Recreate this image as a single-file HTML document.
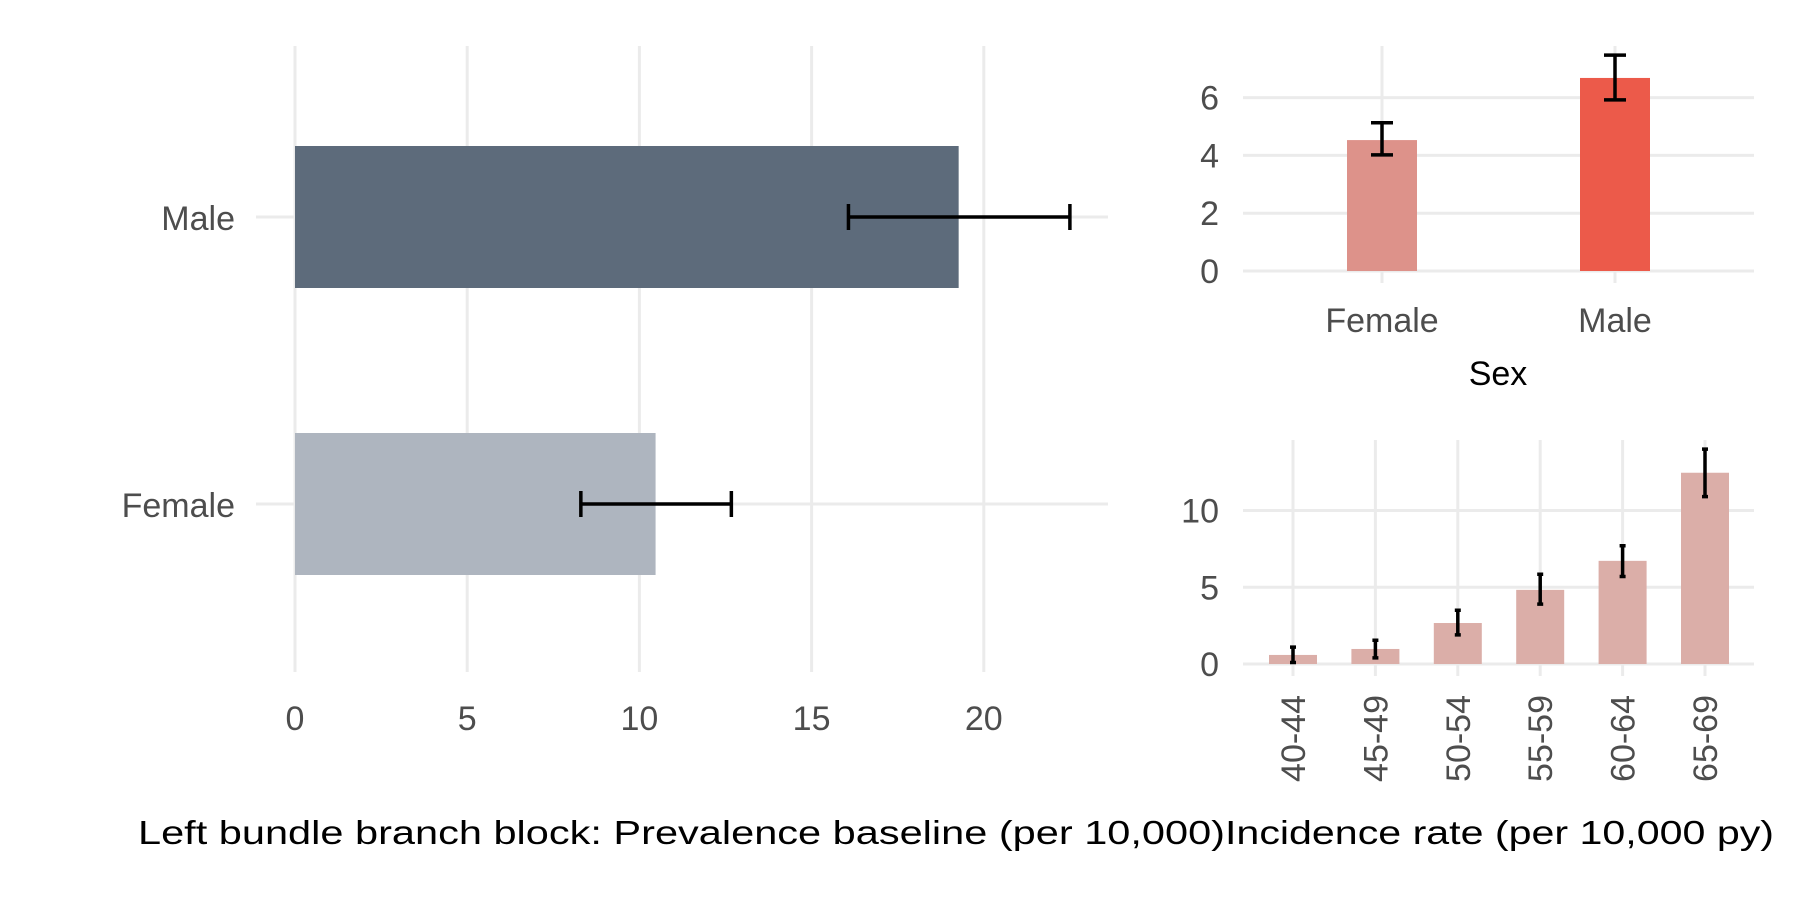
<!DOCTYPE html>
<html><head><meta charset="utf-8"><style>
html,body{margin:0;padding:0;background:#fff;}
svg{display:block;font-family:"Liberation Sans",sans-serif;}
</style></head><body>
<svg id="c" width="1800" height="900" viewBox="0 0 1800 900"></svg>
<script>
// Left panel data
const prevCats = ["Male","Female"];
const prevVals = [19.27,10.47];
const prevLo = [16.07,8.3];
const prevHi = [22.5,12.67];
const prevTicks = [0,5,10,15,20];
// Top-right data
const sexCats = ["Female","Male"];
const sexVals = [4.53,6.68];
const sexLo = [4.02,5.92];
const sexHi = [5.13,7.47];
const sexTicks = [0,2,4,6];
// Bottom-right data
const ageCats = ["40-44","45-49","50-54","55-59","60-64","65-69"];
const ageVals = [0.59,0.98,2.67,4.83,6.72,12.46];
const ageLo = [0.1,0.4,1.9,3.9,5.7,10.9];
const ageHi = [1.1,1.55,3.5,5.85,7.7,14.0];
const ageTicks = [0,5,10];

const svg=document.getElementById('c');
const NS='http://www.w3.org/2000/svg';
function mk(tag,attrs,parent){const e=document.createElementNS(NS,tag);for(const k in attrs)e.setAttribute(k,attrs[k]);(parent||svg).appendChild(e);return e;}
const GRID='#ebebeb', TXT='#4d4d4d';

// ---------- Left panel ----------
const L=mk('g',{});


const lx=v=>295+v*34.44;
const lyC={"Male":217,"Female":504};
prevTicks.forEach(t=>{
  const g=mk('line',{x1:lx(t),x2:lx(t),y1:46,y2:672,stroke:GRID,'stroke-width':3},L);
  
  
  const tx=mk('text',{x:lx(t),y:730,'text-anchor':'middle','font-size':34,fill:TXT},L);
  tx.textContent=t;
  
  
});
prevCats.forEach((c,i)=>{
  const y=lyC[c];
  const gl=mk('line',{x1:256,x2:1108,y1:y,y2:y,stroke:GRID,'stroke-width':3},L);
  
  
  const b=mk('rect',{x:lx(0),y:y-71,width:lx(prevVals[i])-lx(0),height:142,fill:c==="Male"?'#5d6b7b':'#aeb5bf'},L);
  
  
  const e=mk('path',{d:`M${lx(prevLo[i])},${y}H${lx(prevHi[i])}M${lx(prevLo[i])},${y-13}V${y+13}M${lx(prevHi[i])},${y-13}V${y+13}`,stroke:'#000','stroke-width':3.5,fill:'none'},L);
  
  
  const tx=mk('text',{x:235,y:y+13,'text-anchor':'end','font-size':34,fill:TXT},L);
  tx.textContent=c;
  
  
});
const lt=mk('text',{x:138,y:844,'font-size':33,fill:'#000',textLength:1087,lengthAdjust:'spacingAndGlyphs'});
lt.textContent='Left bundle branch block: Prevalence baseline (per 10,000)';



// ---------- Top-right panel ----------
const T=mk('g',{});


const ty=v=>271-v*28.9;
const tx0={"Female":1382,"Male":1615};
sexTicks.forEach(t=>{
  const g=mk('line',{x1:1243,x2:1754,y1:ty(t),y2:ty(t),stroke:GRID,'stroke-width':3},T);
  
  
  const tx=mk('text',{x:1219,y:ty(t)+12,'text-anchor':'end','font-size':34,fill:TXT},T);
  tx.textContent=t;
  
  
});
sexCats.forEach((c,i)=>{
  const x=tx0[c];
  const g=mk('line',{x1:x,x2:x,y1:46,y2:283,stroke:GRID,'stroke-width':3},T);
  
  
  const b=mk('rect',{x:x-35,y:ty(sexVals[i]),width:70,height:ty(0)-ty(sexVals[i]),fill:c==="Male"?'#ec5a4a':'#dd928a'},T);
  
  
  const e=mk('path',{d:`M${x},${ty(sexLo[i])}V${ty(sexHi[i])}M${x-11},${ty(sexLo[i])}H${x+11}M${x-11},${ty(sexHi[i])}H${x+11}`,stroke:'#000','stroke-width':3.5,fill:'none'},T);
  
  
  const t=mk('text',{x:x,y:332,'text-anchor':'middle','font-size':34,fill:TXT},T);
  t.textContent=c;
  
  
});
const sx=mk('text',{x:1498,y:385,'text-anchor':'middle','font-size':34,fill:'#000'});
sx.textContent='Sex';



// ---------- Bottom-right panel ----------
const B=mk('g',{});


const by=v=>664-v*15.35;
const bx=i=>1293+i*82.4;
ageTicks.forEach(t=>{
  const g=mk('line',{x1:1243,x2:1754,y1:by(t),y2:by(t),stroke:GRID,'stroke-width':3},B);
  
  
  const tx=mk('text',{x:1219,y:by(t)+12,'text-anchor':'end','font-size':34,fill:TXT},B);
  tx.textContent=t;
  
  
});
ageCats.forEach((c,i)=>{
  const x=bx(i);
  const g=mk('line',{x1:x,x2:x,y1:440,y2:676,stroke:GRID,'stroke-width':3},B);
  
  
  const b=mk('rect',{x:x-24,y:by(ageVals[i]),width:48,height:by(0)-by(ageVals[i]),fill:'#dbaea8'},B);
  
  
  const e=mk('path',{d:`M${x},${by(ageLo[i])}V${by(ageHi[i])}M${x-3},${by(ageLo[i])}H${x+3}M${x-3},${by(ageHi[i])}H${x+3}`,stroke:'#000','stroke-width':3.5,fill:'none'},B);
  
  
  const t=mk('text',{x:0,y:0,'text-anchor':'end','font-size':34,fill:TXT,transform:`translate(${x+12},695) rotate(-90)`},B);
  t.textContent=c;
  
  
});
const rt=mk('text',{x:1225,y:844,'font-size':33,fill:'#000',textLength:549,lengthAdjust:'spacingAndGlyphs'});
rt.textContent='Incidence rate (per 10,000 py)';


</script>
</body></html>
